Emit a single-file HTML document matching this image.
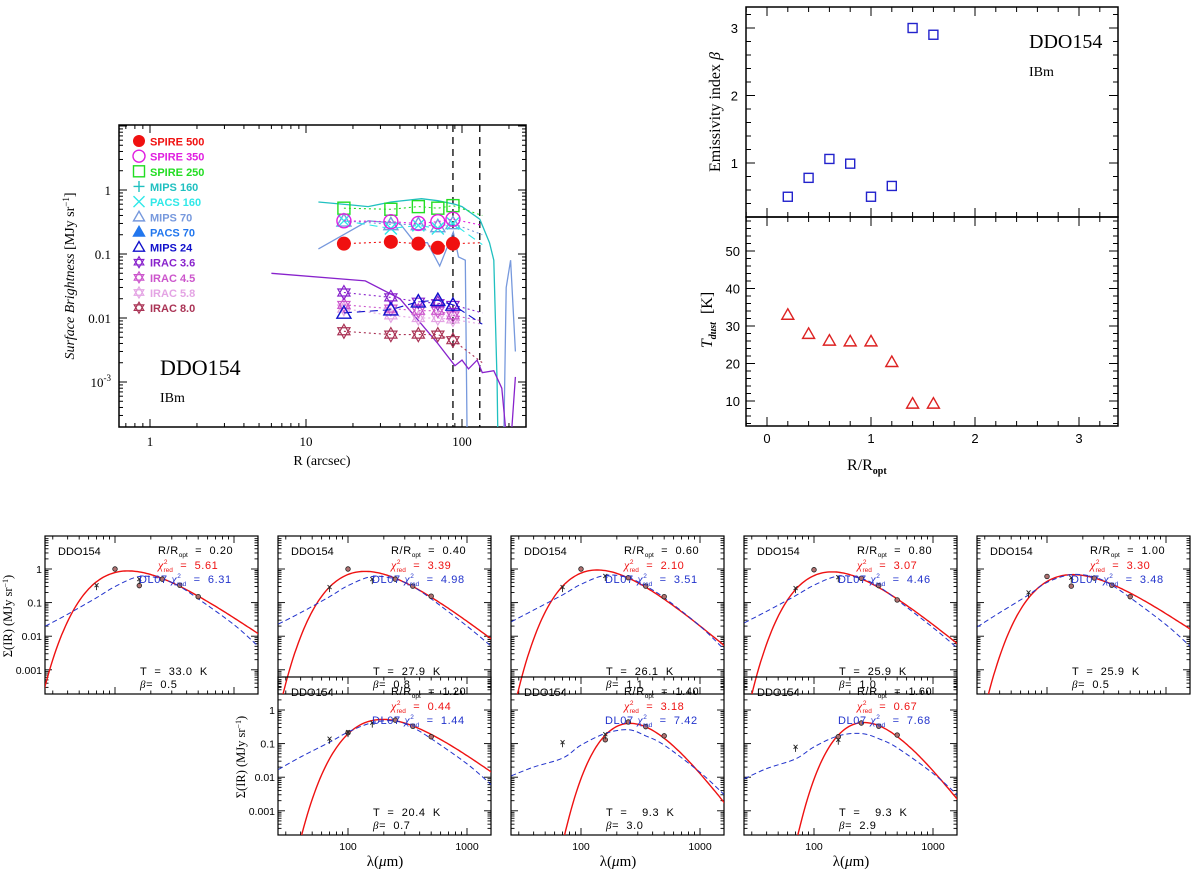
<!DOCTYPE html>
<html><head><meta charset="utf-8"><style>
body{margin:0;background:#fff}
svg{display:block}
text{font-family:"Liberation Sans",sans-serif;white-space:pre;}
.serif{font-family:"Liberation Serif",serif;}
</style></head><body>
<svg id="fig" width="1200" height="869" viewBox="0 0 1200 869" xmlns="http://www.w3.org/2000/svg" xml:space="preserve">
<defs>
<clipPath id="clipL"><rect x="119" y="125" width="407" height="302"/></clipPath>
</defs>
<g id="left"></g><g id="right"></g><g id="seds"></g>
</svg>
<script>
// ---------- Left panel data ----------
const radii = [17.5, 35, 52.5, 70, 87.5];
const extR = 135;
const spire500 = [0.145, 0.155, 0.145, 0.125, 0.145];
const spire350 = [0.33, 0.32, 0.30, 0.32, 0.35];
const spire250 = [0.52, 0.50, 0.55, 0.52, 0.57];
const pacs160 = [0.33, 0.25, 0.28, 0.25, 0.30];
const mips70 = [0.33, 0.29, 0.29, 0.27, 0.30];
const mips24 = [0.012, 0.0135, 0.018, 0.019, 0.016];
const irac36 = [0.025, 0.021, 0.018, 0.017, 0.016];
const irac45 = [0.016, 0.014, 0.013, 0.013, 0.011];
const irac58 = [0.014, 0.011, 0.010, 0.010, 0.0095];
const irac80 = [0.0062, 0.0055, 0.0055, 0.0055, 0.0045];
const extVals = {s500:0.15, s350:0.28, s250:0.40, p160:0.14, m24:0.008, i36:0.012, i45:0.009, i58:0.008, i80:0.002};
const mips160LineR = [12, 20, 25, 35, 55, 70, 90, 100, 130, 150, 160, 168, 170];
const mips160LineV = [0.65, 0.58, 0.55, 0.65, 0.73, 0.68, 0.6, 0.55, 0.35, 0.15, 0.08, 0.001, 0.0001];
const mips70LineR = [12, 25, 40, 50, 60, 72, 88, 95, 105, 108];
const mips70LineV = [0.12, 0.33, 0.30, 0.15, 0.15, 0.065, 0.22, 0.09, 0.08, 0.0001];
const mips70TailR = [185, 192, 205, 220];
const mips70TailV = [0.0001, 0.03, 0.08, 0.003];
const irac36LineR = [6, 24, 40, 55, 70, 90, 100, 110, 125, 135, 160, 180, 195, 205, 220];
const irac36LineV = [0.05, 0.038, 0.02, 0.008, 0.004, 0.0018, 0.0022, 0.0016, 0.0022, 0.0014, 0.0015, 0.0008, 0.0001, 0.0001, 0.0012];
const legendLabels = ["SPIRE 500","SPIRE 350","SPIRE 250","MIPS 160","PACS 160","MIPS 70","PACS 70","MIPS 24","IRAC 3.6","IRAC 4.5","IRAC 5.8","IRAC 8.0"];
const legendColors = ["#f01010","#e020e0","#22dd22","#20c0c0","#30e8e8","#7799dd","#2277ee","#1111cc","#8822cc","#cc55cc","#e4a4e4","#aa3355"];
// ---------- Right panel data ----------
const rRopt = [0.2, 0.4, 0.6, 0.8, 1.0, 1.2, 1.4, 1.6];
const betaVals = [0.5, 0.78, 1.06, 0.99, 0.5, 0.66, 3.0, 2.9];
const tdustVals = [33.0, 27.9, 26.1, 25.9, 25.9, 20.4, 9.3, 9.3];
// ---------- SED panels data ----------
const sedR = ["0.20","0.40","0.60","0.80","1.00","1.20","1.40","1.60"];
const sedT = [33.0, 27.9, 26.1, 25.9, 25.9, 20.4, 9.3, 9.3];
const sedBeta = [0.5, 0.8, 1.1, 1.0, 0.5, 0.7, 3.0, 2.9];
const sedChi = ["5.61","3.39","2.10","3.07","3.30","0.44","3.18","0.67"];
const sedChiDL = ["6.31","4.98","3.51","4.46","3.48","1.44","7.42","7.68"];
const sedNorm250 = [0.52, 0.53, 0.54, 0.51, 0.54, 0.48, 0.40, 0.42];
const dlWave = [26, 40, 70, 100, 160, 250, 350, 500, 1000, 1600];
const dl0 = [0.02,0.045,0.14,0.3,0.6,0.5,0.3,0.13,0.022,0.005];
const dl1 = [0.023,0.05,0.15,0.32,0.6,0.5,0.3,0.13,0.02,0.005];
const dl2 = [0.027,0.06,0.17,0.35,0.65,0.55,0.31,0.14,0.02,0.004];
const dl3 = [0.025,0.055,0.16,0.33,0.62,0.52,0.3,0.12,0.018,0.0045];
const dl4 = [0.019,0.05,0.17,0.4,0.68,0.58,0.33,0.14,0.022,0.005];
const dl5 = [0.017,0.04,0.11,0.22,0.42,0.47,0.3,0.14,0.025,0.006];
const dl6 = [0.011,0.02,0.037,0.09,0.2,0.26,0.17,0.09,0.014,0.003];
const dl7 = [0.009,0.018,0.035,0.08,0.17,0.2,0.14,0.075,0.013,0.003];
const circWave = [100, 160, 250, 350, 500];
const circ0 = [1.0, 0.32, 0.5, 0.33, 0.15];
const circ1 = [1.0, null, 0.5, 0.31, 0.155];
const circ2 = [1.0, null, 0.55, 0.31, 0.15];
const circ3 = [0.95, null, 0.53, 0.32, 0.12];
const circ4 = [0.6, 0.31, 0.54, 0.33, 0.15];
const circ5 = [0.21, null, 0.5, 0.33, 0.16];
const circ6 = [null, 0.13, 0.44, 0.32, 0.17];
const circ7 = [null, 0.16, 0.41, 0.33, 0.18];
const xWave = [70, 100, 160];
const xm0 = [0.33, null, 0.5];
const xm1 = [0.29, null, 0.5];
const xm2 = [0.29, null, 0.62];
const xm3 = [0.27, null, 0.57];
const xm4 = [0.2, null, 0.55];
const xm5 = [0.14, 0.22, 0.42];
const xm6 = [0.11, null, 0.19];
const xm7 = [0.08, null, 0.13];
const dlAll=[dl0,dl1,dl2,dl3,dl4,dl5,dl6,dl7];
const circAll=[circ0,circ1,circ2,circ3,circ4,circ5,circ6,circ7];
const xmAll=[xm0,xm1,xm2,xm3,xm4,xm5,xm6,xm7];

const NS="http://www.w3.org/2000/svg";
function mk(tag, attrs, parent, txt){const e=document.createElementNS(NS,tag);for(const k in attrs)e.setAttribute(k,attrs[k]);if(txt!==undefined)e.textContent=txt;parent.appendChild(e);return e;}
const L10=Math.log10;

// ================= LEFT PANEL =================
const gL=document.getElementById('left');


const lx=r=>150+156*L10(r), ly=v=>190-64*L10(v);
const LX0=119,LX1=526,LY0=125,LY1=427;
let fr=mk('rect',{x:LX0,y:LY0,width:LX1-LX0,height:LY1-LY0,fill:'none',stroke:'#000','stroke-width':1.5},gL);


for(let d=-1;d<=2;d++)for(let m=1;m<=9;m++){const v=m*Math.pow(10,d);const x=lx(v);if(x<LX0+1||x>LX1-1)continue;const len=m===1?8:4;
 mk('line',{x1:x,y1:LY1,x2:x,y2:LY1-len,stroke:'#000','stroke-width':1},gL);mk('line',{x1:x,y1:LY0,x2:x,y2:LY0+len,stroke:'#000','stroke-width':1},gL);}
for(let d=-4;d<=1;d++)for(let m=1;m<=9;m++){const v=m*Math.pow(10,d);const y=ly(v);if(y<LY0+1||y>LY1-1)continue;const len=m===1?8:4;
 mk('line',{x1:LX0,y1:y,x2:LX0+len,y2:y,stroke:'#000','stroke-width':1},gL);mk('line',{x1:LX1,y1:y,x2:LX1-len,y2:y,stroke:'#000','stroke-width':1},gL);}
const xtl=[1,10,100];
xtl.forEach(v=>{const t=mk('text',{x:lx(v),y:446,'text-anchor':'middle','font-size':13,class:'serif'},gL,String(v));});
const ytl=[[1,'1'],[0.1,'0.1'],[0.01,'0.01']];
ytl.forEach(([v,s])=>{const t=mk('text',{x:111,y:ly(v)+5,'text-anchor':'end','font-size':13,class:'serif'},gL,s);});
{const t=mk('text',{x:111,y:ly(0.001)+5,'text-anchor':'end','font-size':13,class:'serif'},gL,'10');mk('tspan',{dy:-6,'font-size':9},t,'-3');}
{const t=mk('text',{x:322,y:465,'text-anchor':'middle','font-size':14,class:'serif'},gL,'R (arcsec)');}
{const t=mk('text',{x:0,y:0,transform:'translate(74,276) rotate(-90)','text-anchor':'middle','font-size':14,class:'serif'},gL);mk('tspan',{'font-style':'italic'},t,'Surface Brightness ');mk('tspan',{},t,'[MJy sr');mk('tspan',{dy:-5,'font-size':9},t,'−1');mk('tspan',{dy:5},t,']');}
{const t=mk('text',{x:160,y:375,'font-size':22,class:'serif'},gL,'DDO154');}
{const t=mk('text',{x:160,y:402,'font-size':14,class:'serif'},gL,'IBm');}
[87.5,130].forEach(r=>{const l=mk('line',{x1:lx(r),y1:LY0,x2:lx(r),y2:LY1,stroke:'#000','stroke-width':1.3,'stroke-dasharray':'7,5'},gL);});
const gC=mk('g',{'clip-path':'url(#clipL)'},gL);
function polyL(R,V,col,dash,name,w){const pts=R.map((r,i)=>lx(r).toFixed(1)+','+ly(V[i]).toFixed(1)).join(' ');const p=mk('polyline',{points:pts,fill:'none',stroke:col,'stroke-width':w||1.2,'stroke-dasharray':dash||'none'},gC);}
polyL(mips160LineR,mips160LineV,'#20c0c0',null,'mips160-profile',1.3);
polyL(mips70LineR,mips70LineV,'#7799dd',null,'mips70-profile',1.3);
polyL(mips70TailR,mips70TailV,'#7799dd',null,'mips70-profile-tail',1.3);
polyL(irac36LineR,irac36LineV,'#8822cc',null,'irac36-profile',1.3);
function marker(g,type,x,y,col,s){
 if(type==='fcirc')return mk('circle',{cx:x,cy:y,r:s,fill:col},g);
 if(type==='ocirc')return mk('circle',{cx:x,cy:y,r:s,fill:'none',stroke:col,'stroke-width':1.4},g);
 if(type==='sq')return mk('rect',{x:x-s,y:y-s,width:2*s,height:2*s,fill:'none',stroke:col,'stroke-width':1.4},g);
 if(type==='plus')return mk('path',{d:`M${x-s},${y}H${x+s}M${x},${y-s}V${y+s}`,stroke:col,'stroke-width':1.4},g);
 if(type==='cross')return mk('path',{d:`M${x-s},${y-s}L${x+s},${y+s}M${x-s},${y+s}L${x+s},${y-s}`,stroke:col,'stroke-width':1.4},g);
 if(type==='otri'||type==='ftri'){return mk('path',{d:`M${x},${y-s}L${x+s},${y+s*0.75}L${x-s},${y+s*0.75}Z`,fill:type==='ftri'?col:'none',stroke:col,'stroke-width':1.4},g);}
 if(type==='star'){return mk('path',{d:`M${x},${y-s}L${x+s*0.87},${y+s/2}L${x-s*0.87},${y+s/2}ZM${x},${y+s}L${x+s*0.87},${y-s/2}L${x-s*0.87},${y-s/2}Z`,fill:'none',stroke:col,'stroke-width':1.2},g);}
}
function series(V,ext,type,col,dash,name,s){
 const R=radii.concat([extR]);const VV=V.concat([ext]);
 polyL(R,VV,col,dash,name+'-line',1.1);
 V.forEach((v,i)=>{const m=marker(gC,type,lx(radii[i]),ly(v),col,s);});
}
series(spire250,extVals.s250,'sq','#22dd22','2,3','spire250',6);
series(mips70,0.2,'otri','#7799dd','2,3','mips70',7);
series(pacs160,extVals.p160,'cross','#30e8e8','8,5','pacs160',6);
series(spire350,extVals.s350,'ocirc','#e020e0','2,3','spire350',7);
series(spire500,extVals.s500,'fcirc','#f01010','2,3','spire500',7);
series(irac58,extVals.i58,'star','#e4a4e4','2,3','irac58',7);
series(irac45,extVals.i45,'star','#cc55cc','2,3','irac45',7);
series(irac36,extVals.i36,'star','#8822cc','2,3','irac36',7);
series(mips24,extVals.m24,'otri','#1111cc','8,5','mips24',7);
series(irac80,extVals.i80,'star','#aa3355','2,3','irac80',7);
const ltypes=['fcirc','ocirc','sq','plus','cross','otri','ftri','otri','star','star','star','star'];
legendLabels.forEach((lab,i)=>{const y=141+15.15*i;const g=mk('g',{},gL);
 marker(g,ltypes[i],139,y,legendColors[i],ltypes[i]==='fcirc'||ltypes[i]==='ocirc'?6:5.5);
 mk('text',{x:150,y:y+4.5,'font-size':11,'font-weight':'bold',fill:legendColors[i]},g,lab);});

// ================= RIGHT PANEL =================
const gR=document.getElementById('right');


const rx=v=>767+104*v, by=b=>163-67.5*(b-1), ty=t=>401-3.75*(t-10);
const RX0=746,RX1=1118,RY0=7,RYM=217,RY1=426;
[[RY0,RYM,'beta-frame'],[RYM,RY1,'tdust-frame']].forEach(([a,b,n])=>{const r=mk('rect',{x:RX0,y:a,width:RX1-RX0,height:b-a,fill:'none',stroke:'#000','stroke-width':1.5},gR);});
for(let i=-1;i<=17;i++){const v=i*0.2;const x=rx(v);if(x<=RX0||x>=RX1)continue;const maj=(i%5===0);const len=maj?9:5;
 [[RY0,1],[RYM,-1],[RYM,1],[RY1,-1]].forEach(([y,dir])=>mk('line',{x1:x,y1:y,x2:x,y2:y+dir*len,stroke:'#000','stroke-width':1},gR));}
for(let i=1;i<=16;i++){const b=i*0.2;const y=by(b);if(y<=RY0||y>=RYM)continue;const len=(i%5===0)?9:5;mk('line',{x1:RX0,y1:y,x2:RX0+len,y2:y,stroke:'#000'},gR);mk('line',{x1:RX1,y1:y,x2:RX1-len,y2:y,stroke:'#000'},gR);}
for(let t=4;t<=58;t+=2){const y=ty(t);if(y<=RYM||y>=RY1)continue;const len=(t%10===0)?9:5;mk('line',{x1:RX0,y1:y,x2:RX0+len,y2:y,stroke:'#000'},gR);mk('line',{x1:RX1,y1:y,x2:RX1-len,y2:y,stroke:'#000'},gR);}
[0,1,2,3].forEach(v=>{const t=mk('text',{x:rx(v),y:443,'text-anchor':'middle','font-size':13},gR,String(v));});
[1,2,3].forEach(v=>{const t=mk('text',{x:738,y:by(v)+5,'text-anchor':'end','font-size':13},gR,String(v));});
[10,20,30,40,50].forEach(v=>{const t=mk('text',{x:740,y:ty(v)+5,'text-anchor':'end','font-size':13},gR,String(v));});
{const t=mk('text',{x:847,y:470,'font-size':16,class:'serif'},gR,'R/R');mk('tspan',{dy:4,'font-size':10,'font-weight':'bold'},t,'opt');}
{const t=mk('text',{x:0,y:0,transform:'translate(720,112) rotate(-90)','text-anchor':'middle','font-size':16,class:'serif'},gR,'Emissivity index ');mk('tspan',{'font-style':'italic'},t,'β');}
{const t=mk('text',{x:0,y:0,transform:'translate(712,320) rotate(-90)','text-anchor':'middle','font-size':16,class:'serif'},gR);mk('tspan',{'font-style':'italic'},t,'T');mk('tspan',{dy:4,'font-size':10,'font-style':'italic','font-weight':'bold'},t,'dust');mk('tspan',{dy:-4},t,'  [K]');}
{const t=mk('text',{x:1029,y:48,'font-size':20,class:'serif'},gR,'DDO154');}
{const t=mk('text',{x:1029,y:76,'font-size':14,class:'serif'},gR,'IBm');}
rRopt.forEach((r,i)=>{const m=marker(gR,'sq',rx(r),by(betaVals[i]),'#2222cc',4.5);
 const t=marker(gR,'otri',rx(r),ty(tdustVals[i]),'#dd2222',6);});

// ================= SED PANELS =================
const gS=document.getElementById('seds');


const panelPos=[[45,536],[278,536],[511,536],[744,536],[977,536],[278,677],[511,677],[744,677]];
const PW=213,PH=158;
function catmull(pts){let d='M'+pts[0][0].toFixed(1)+','+pts[0][1].toFixed(1);for(let i=0;i<pts.length-1;i++){const p0=pts[Math.max(i-1,0)],p1=pts[i],p2=pts[i+1],p3=pts[Math.min(i+2,pts.length-1)];
 const c1=[p1[0]+(p2[0]-p0[0])/6,p1[1]+(p2[1]-p0[1])/6],c2=[p2[0]-(p3[0]-p1[0])/6,p2[1]-(p3[1]-p1[1])/6];d+=`C${c1[0].toFixed(1)},${c1[1].toFixed(1)} ${c2[0].toFixed(1)},${c2[1].toFixed(1)} ${p2[0].toFixed(1)},${p2[1].toFixed(1)}`;}return d;}
function chiText(g,x,y,fs,col,pre,val,name){
 const t=mk('text',{x:x,y:y,'font-size':fs,fill:col,'letter-spacing':0.6},g,pre);
 mk('tspan',{'font-style':'italic','font-family':'Liberation Serif, serif','font-size':fs+1},t,'χ');
 mk('tspan',{dy:-5,'font-size':6.5,'letter-spacing':0},t,'2');
 mk('tspan',{dx:-4,dy:8,'font-size':6.5,'letter-spacing':0},t,'red');
 mk('tspan',{dy:-3},t,'  =  '+val);
 
 
}
panelPos.forEach(([L,T],k)=>{
 const g=mk('g',{},gS);
 const sx=l=>L+70+119*(L10(l)-2), sy=v=>T+33-33.6*L10(v);
 const cp=mk('clipPath',{id:'cp'+k},g);mk('rect',{x:L,y:T,width:PW,height:PH},cp);
 const f=mk('rect',{x:L,y:T,width:PW,height:PH,fill:'none',stroke:'#000','stroke-width':1.2},g);
 for(let d=1;d<=3;d++)for(let m=1;m<=9;m++){const v=m*Math.pow(10,d);const x=sx(v);if(x<=L+1||x>=L+PW-1)continue;const len=m===1?7:3.5;mk('line',{x1:x,y1:T+PH,x2:x,y2:T+PH-len,stroke:'#000','stroke-width':0.9},g);mk('line',{x1:x,y1:T,x2:x,y2:T+len,stroke:'#000','stroke-width':0.9},g);}
 for(let d=-4;d<=1;d++)for(let m=1;m<=9;m++){const v=m*Math.pow(10,d);const y=sy(v);if(y<=T+1||y>=T+PH-1)continue;const len=m===1?7:3.5;mk('line',{x1:L,y1:y,x2:L+len,y2:y,stroke:'#000','stroke-width':0.9},g);mk('line',{x1:L+PW,y1:y,x2:L+PW-len,y2:y,stroke:'#000','stroke-width':0.9},g);}
 const cg=mk('g',{'clip-path':`url(#cp${k})`},g);
 const Tk=sedT[k],b=sedBeta[k];const fmb=l=>Math.pow(l,-(3+b))/(Math.exp(14388/(l*Tk))-1);const n=sedNorm250[k]/fmb(250);
 let pts=[];for(let i=0;i<=120;i++){const l=Math.pow(10,1.4+i*(1.82/120));const v=n*fmb(l);pts.push(sx(l).toFixed(1)+','+Math.max(-50,Math.min(T+PH+50,sy(Math.max(v,1e-9)))).toFixed(1));}
 const rc=mk('polyline',{points:pts.join(' '),fill:'none',stroke:'#ee1111','stroke-width':1.4},cg);
 const dp=dlAll[k].map((v,i)=>[sx(dlWave[i]),sy(v)]);
 const bc=mk('path',{d:catmull(dp),fill:'none',stroke:'#2233cc','stroke-width':1,'stroke-dasharray':'5,3'},cg);
 circAll[k].forEach((v,i)=>{if(v==null)return;const c=mk('circle',{cx:sx(circWave[i]),cy:sy(v),r:2.3,fill:'#b07070',stroke:'#222','stroke-width':0.8},cg);});
 xmAll[k].forEach((v,i)=>{if(v==null)return;const x=sx(xWave[i]),y=sy(v);const c=mk('path',{d:`M${x-2},${y-2}L${x+2},${y+2}M${x-2},${y+2}L${x+2},${y-2}M${x},${y}V${y+5}`,stroke:'#222','stroke-width':0.9},cg);});
 const fs=11;
 let t=mk('text',{x:L+13,y:T+19,'font-size':fs},g,'DDO154');
 t=mk('text',{x:L+113,y:T+18,'font-size':fs,'letter-spacing':0.6},g,'R/R');mk('tspan',{dy:3,'font-size':6.5,'letter-spacing':0},t,'opt');mk('tspan',{dy:-3},t,'  =  '+sedR[k]);
 chiText(g,L+113,T+33,fs,'#ee1111','',sedChi[k],'sed-chi2-label');
 chiText(g,L+94,T+47,fs,'#2233cc','DL07 ',sedChiDL[k],'sed-dl07-chi2-label');
 t=mk('text',{x:L+95,y:T+139,'font-size':fs,'letter-spacing':0.6},g,'T  =  '+(Tk<10?'  ':'')+Tk.toFixed(1)+'  K');
 t=mk('text',{x:L+95,y:T+152,'font-size':fs,'letter-spacing':0.6},g);mk('tspan',{'font-style':'italic','font-family':'Liberation Serif, serif'},t,'β');mk('tspan',{},t,'=  '+b.toFixed(1));
 if(k===0||k===5){
  [[1,'1'],[0.1,'0.1'],[0.01,'0.01'],[0.001,'0.001']].forEach(([v,s])=>{const q=mk('text',{x:L-3,y:sy(v)+4,'text-anchor':'end','font-size':10.5},g,s);});
  const q=mk('text',{x:0,y:0,transform:`translate(${L-33},${T+80}) rotate(-90)`,'text-anchor':'middle','font-size':12.5,class:'serif'},g,'Σ(IR) (MJy sr');mk('tspan',{dy:-4,'font-size':8},q,'−1');mk('tspan',{dy:4},q,')');
 }
 if(k>=5){
  [100,1000].forEach(v=>{const q=mk('text',{x:sx(v),y:T+PH+15,'text-anchor':'middle','font-size':10.5},g,String(v));});
  const q=mk('text',{x:L+107,y:T+PH+31,'text-anchor':'middle','font-size':15,class:'serif'},g,'λ(');mk('tspan',{'font-style':'italic'},q,'μ');mk('tspan',{},q,'m)');
 }
});
</script>
</body></html>
